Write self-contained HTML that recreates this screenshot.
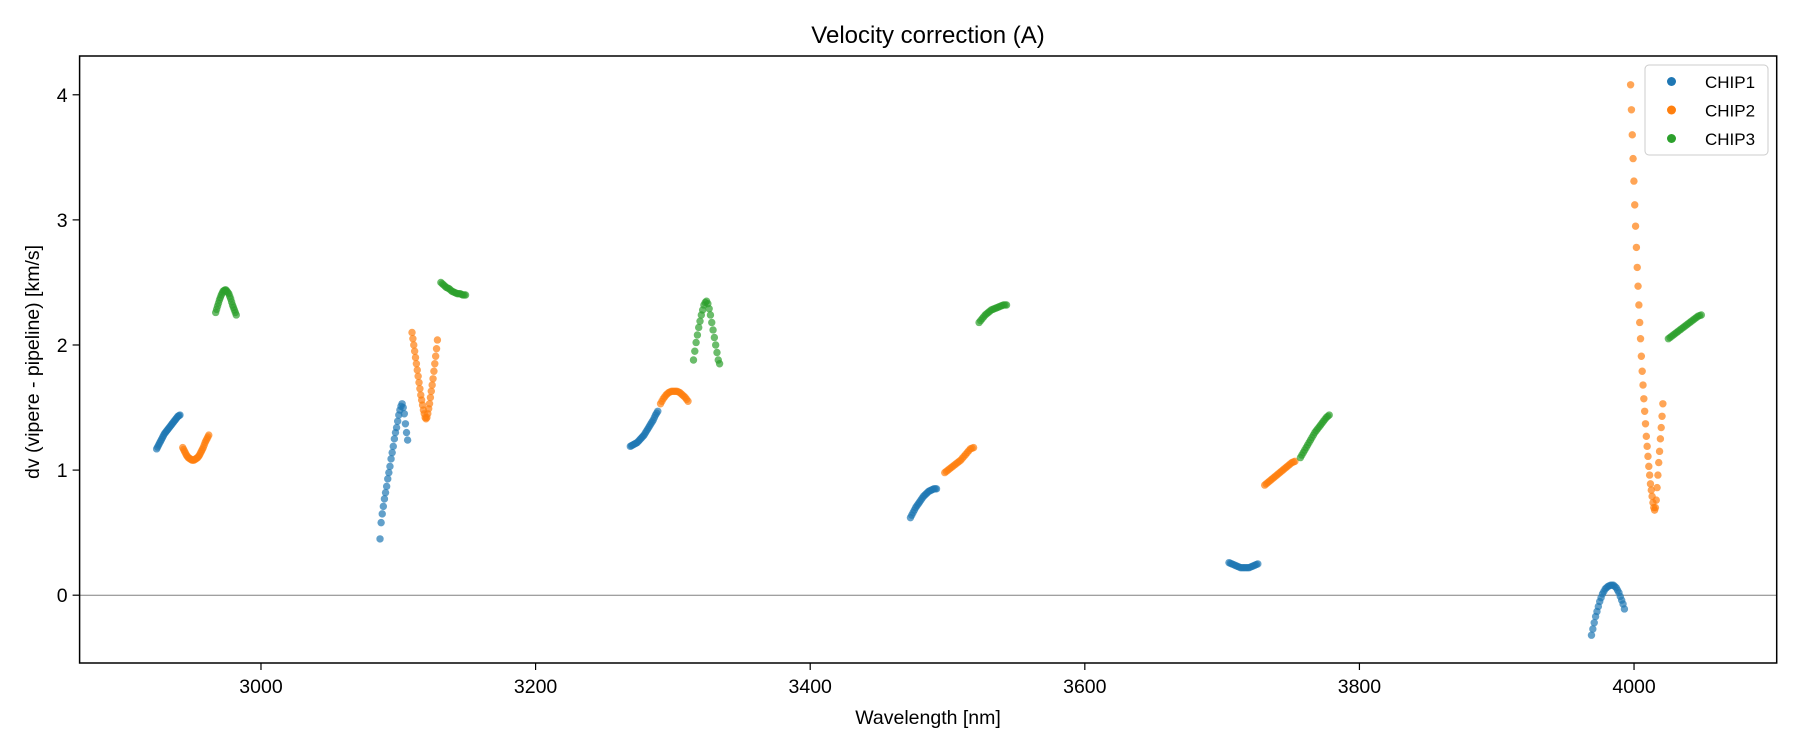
<!DOCTYPE html>
<html><head><meta charset="utf-8"><style>
body{margin:0;background:#fff;}
svg{display:block;font-family:"Liberation Sans","DejaVu Sans",sans-serif;}
</style></head><body>
<svg id="chart" width="1800" height="750" viewBox="0 0 1800 750">
<text x="928" y="43" font-size="24" text-anchor="middle" fill="#000">Velocity correction (A)</text>
<g id="plot"></g>
<rect x="79.6" y="56" width="1697.1" height="607" fill="none" stroke="#000" stroke-width="1.5"/>
<text x="928" y="724" font-size="19.5" text-anchor="middle">Wavelength [nm]</text>
<text transform="translate(39,362) rotate(-90)" font-size="19.5" text-anchor="middle">dv (vipere - pipeline) [km/s]</text>
<g>
<rect x="1645" y="65" width="123" height="90" rx="4" fill="#fff" fill-opacity="0.8" stroke="#ccc" stroke-width="1"/>
<circle cx="1671.5" cy="81.5" r="4.5" fill="#1f77b4"/>
<text x="1705" y="88" font-size="17">CHIP1</text>
<circle cx="1671.5" cy="110" r="4.5" fill="#ff7f0e"/>
<text x="1705" y="116.5" font-size="17">CHIP2</text>
<circle cx="1671.5" cy="138.5" r="4.5" fill="#2ca02c"/>
<text x="1705" y="145" font-size="17">CHIP3</text>
</g>
</svg>
<script>
const xTicks = [3000, 3200, 3400, 3600, 3800, 4000];
const yTicks = [0, 1, 2, 3, 4];
const chipNames = ["CHIP1", "CHIP2", "CHIP3"];
const segChip = [0,1,2, 0,1,2, 0,1,2, 0,1,2, 0,1,2, 0,1,2];
const segX0 = [2924,2943,2967, 3086.7,3110,3131, 3269,3291,3315, 3473,3498,3523, 3705,3731,3757, 3969,3997.5,4025];
const segX1 = [2941,2962,2982, 3106.8,3128.5,3149, 3289,3311,3334, 3492,3519,3543, 3726,3753,3778, 3993,4021,4049];
const segY = [
 [1.17,1.185,1.20,1.215,1.23,1.245,1.26,1.275,1.29,1.30,1.31,1.32,1.33,1.34,1.35,1.36,1.37,1.38,1.39,1.40,1.41,1.42,1.43,1.435,1.44],
 [1.18,1.165,1.15,1.135,1.12,1.11,1.10,1.095,1.09,1.085,1.08,1.08,1.08,1.085,1.09,1.095,1.10,1.11,1.12,1.135,1.15,1.165,1.18,1.20,1.22,1.235,1.25,1.265,1.28],
 [2.26,2.285,2.31,2.335,2.36,2.38,2.40,2.415,2.43,2.435,2.44,2.44,2.43,2.42,2.41,2.39,2.37,2.345,2.32,2.30,2.28,2.26,2.24],
 [0.45,0.58,0.65,0.71,0.77,0.82,0.87,0.93,0.98,1.03,1.09,1.14,1.19,1.25,1.30,1.34,1.39,1.44,1.48,1.51,1.53,1.50,1.45,1.37,1.30,1.24],
 [2.10,2.05,2.00,1.95,1.90,1.85,1.80,1.75,1.70,1.65,1.60,1.56,1.52,1.48,1.45,1.42,1.41,1.42,1.45,1.49,1.53,1.58,1.63,1.68,1.73,1.79,1.85,1.91,1.97,2.04],
 [2.50,2.49,2.48,2.47,2.46,2.455,2.45,2.44,2.43,2.425,2.42,2.415,2.41,2.41,2.41,2.405,2.40,2.40,2.40],
 [1.19,1.195,1.20,1.205,1.21,1.215,1.22,1.23,1.24,1.25,1.26,1.27,1.28,1.295,1.31,1.325,1.34,1.355,1.37,1.385,1.40,1.42,1.44,1.455,1.47],
 [1.53,1.55,1.57,1.585,1.60,1.61,1.62,1.625,1.63,1.63,1.63,1.63,1.63,1.625,1.62,1.61,1.60,1.59,1.58,1.565,1.55],
 [1.88,1.95,2.02,2.08,2.14,2.19,2.24,2.28,2.32,2.34,2.35,2.33,2.29,2.24,2.18,2.12,2.06,2.00,1.94,1.88,1.85],
 [0.62,0.64,0.66,0.68,0.70,0.715,0.73,0.745,0.76,0.775,0.79,0.80,0.81,0.82,0.83,0.835,0.84,0.845,0.85,0.85,0.85],
 [0.98,0.99,1.00,1.01,1.02,1.03,1.04,1.05,1.06,1.07,1.08,1.095,1.11,1.125,1.14,1.155,1.17,1.175,1.18],
 [2.18,2.195,2.21,2.225,2.24,2.25,2.26,2.27,2.28,2.285,2.29,2.295,2.30,2.305,2.31,2.315,2.32,2.32,2.32],
 [0.26,0.255,0.25,0.245,0.24,0.235,0.23,0.225,0.22,0.22,0.22,0.22,0.22,0.22,0.22,0.225,0.23,0.235,0.24,0.245,0.25],
 [0.88,0.89,0.90,0.91,0.92,0.93,0.94,0.95,0.96,0.97,0.98,0.99,1.00,1.01,1.02,1.03,1.04,1.05,1.06,1.065,1.07],
 [1.10,1.12,1.14,1.16,1.18,1.20,1.22,1.24,1.26,1.28,1.30,1.315,1.33,1.345,1.36,1.375,1.39,1.405,1.42,1.43,1.44],
 [-0.32,-0.27,-0.22,-0.17,-0.13,-0.09,-0.05,-0.02,0.01,0.03,0.05,0.06,0.07,0.075,0.08,0.08,0.08,0.07,0.06,0.04,0.02,-0.01,-0.04,-0.07,-0.11],
 [4.08,3.88,3.68,3.49,3.31,3.12,2.95,2.78,2.62,2.47,2.32,2.18,2.05,1.91,1.79,1.68,1.57,1.47,1.37,1.27,1.19,1.11,1.03,0.96,0.89,0.84,0.79,0.74,0.70,0.68,0.70,0.76,0.86,0.96,1.06,1.15,1.25,1.34,1.43,1.53],
 [2.05,2.06,2.07,2.08,2.09,2.10,2.11,2.12,2.13,2.14,2.15,2.16,2.17,2.18,2.19,2.20,2.21,2.22,2.23,2.235,2.24]
];
const colors = ["#1f77b4", "#ff7f0e", "#2ca02c"];
const X0 = 79.6, X1 = 1776.7, Y0 = 56, Y1 = 663;
const xMin = 2867.9, xMax = 4103.9, yMin = -0.542, yMax = 4.310;
function sx(v){ return X0 + (v - xMin) / (xMax - xMin) * (X1 - X0); }
function sy(v){ return Y1 - (v - yMin) / (yMax - yMin) * (Y1 - Y0); }
const NS = "http://www.w3.org/2000/svg";
const svg = document.getElementById("chart");
const plot = document.getElementById("plot");
function mk(tag, attrs, parent){ const e = document.createElementNS(NS, tag); for (const k in attrs) e.setAttribute(k, attrs[k]); parent.appendChild(e); return e; }
const zl = mk("line", {x1: X0, x2: X1, y1: sy(0), y2: sy(0), stroke: "#808080", "stroke-width": 1}, plot);


segY.forEach((ys, s) => {
  const g = mk("g", {fill: colors[segChip[s]], "fill-opacity": 0.7}, plot);
  
  
  const n = ys.length;
  ys.forEach((v, i) => {
    const xv = segX0[s] + (n > 1 ? i * (segX1[s] - segX0[s]) / (n - 1) : 0);
    const c = mk("circle", {cx: sx(xv), cy: sy(v), r: 3.7}, g);
    
    
  });
});
xTicks.forEach(t => {
  const x = sx(t);
  const l = mk("line", {x1: x, x2: x, y1: Y1, y2: Y1 + 7, stroke: "#000", "stroke-width": 1.2}, svg);
  
  
  const tx = mk("text", {x: x, y: Y1 + 30, "font-size": 19.5, "text-anchor": "middle"}, svg);
  tx.textContent = t;
  
  
});
yTicks.forEach(t => {
  const y = sy(t);
  const l = mk("line", {x1: X0 - 7, x2: X0, y1: y, y2: y, stroke: "#000", "stroke-width": 1.2}, svg);
  
  
  const tx = mk("text", {x: X0 - 12, y: y + 7, "font-size": 19.5, "text-anchor": "end"}, svg);
  tx.textContent = t;
  
  
});
</script>
</body></html>
